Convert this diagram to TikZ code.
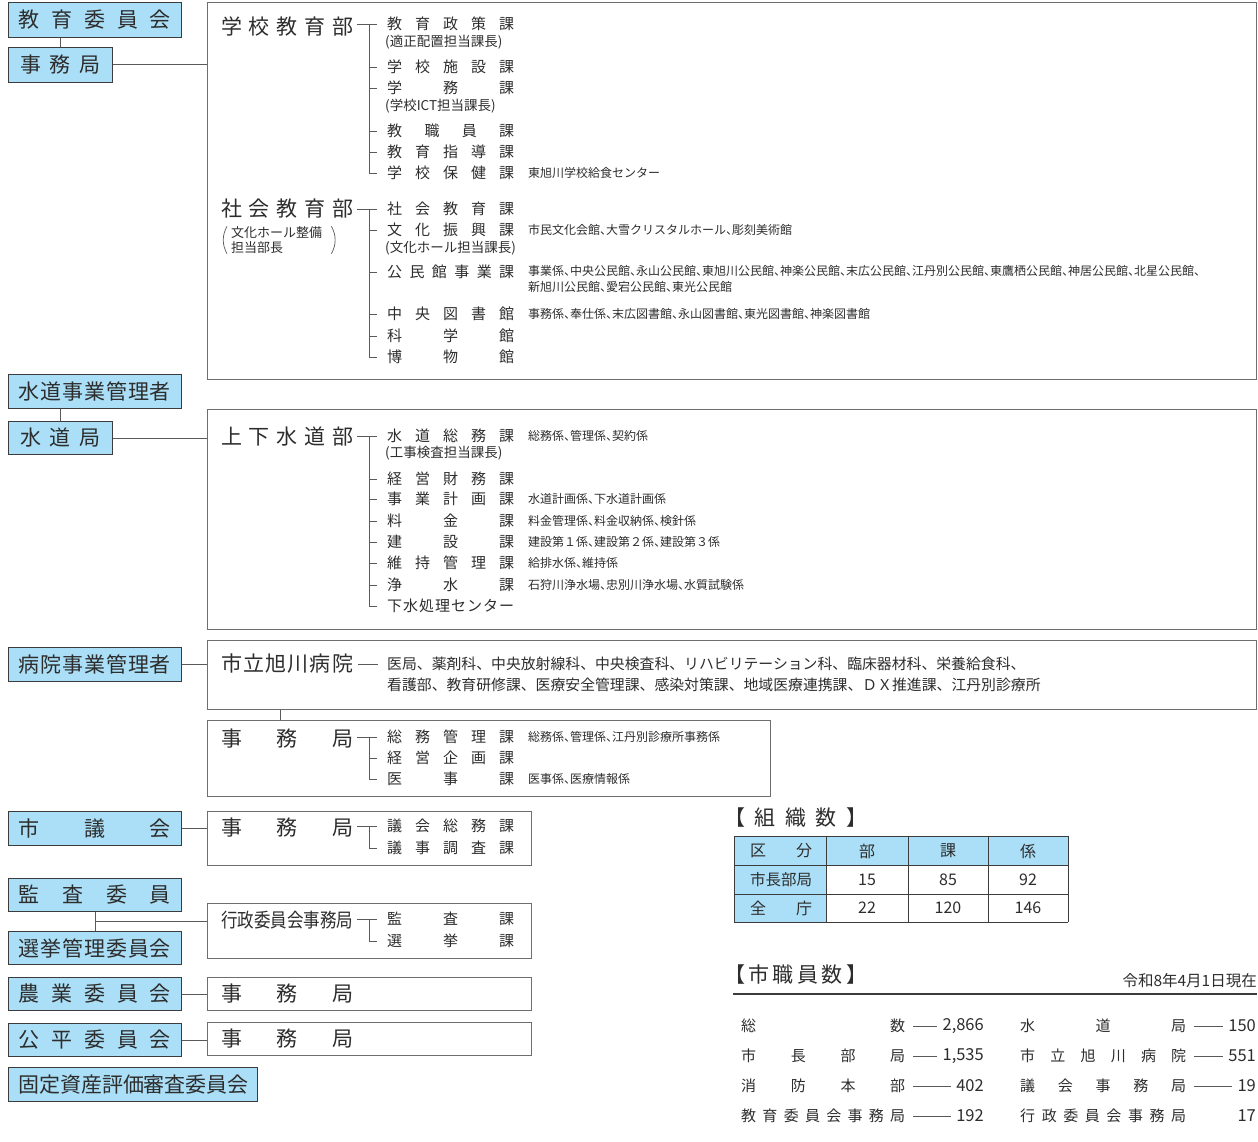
\documentclass[tikz,border=0pt]{standalone}
\usepackage{fontspec}
\usepackage{graphicx}
\setmainfont{Noto Sans CJK JP}
\newfontfamily\notefont[RawFeature=+halt]{Noto Sans CJK JP}
\usetikzlibrary{calc}

\definecolor{boxblue}{RGB}{171,223,247}
\definecolor{ink}{RGB}{45,45,45}
\definecolor{boxline}{RGB}{60,60,60}
\definecolor{framegray}{RGB}{110,110,110}
\definecolor{linegray}{RGB}{90,90,90}

\tikzstyle{bluebox}=[draw=boxline, fill=boxblue, line width=1pt, inner sep=0pt, anchor=north west, font=\fontsize{21}{24}\selectfont]
\tikzstyle{whitebox}=[draw=framegray, line width=1.2pt, inner sep=0pt, anchor=north west]
\tikzstyle{head}=[inner sep=0pt, anchor=west, font=\fontsize{21}{24}\selectfont]
\tikzstyle{ka}=[inner sep=0pt, anchor=west, font=\fontsize{15}{17}\selectfont]
\tikzstyle{sub}=[inner sep=0pt, anchor=west, font=\fontsize{13.5}{15}\selectfont]
\tikzstyle{note}=[inner sep=0pt, anchor=west, font=\notefont\fontsize{12}{16}\selectfont]
\tikzstyle{list}=[inner sep=0pt, anchor=west, font=\fontsize{14.85}{21}\selectfont]
\tikzstyle{cell}=[inner sep=0pt, font=\fontsize{16}{18}\selectfont]
\tikzstyle{staff}=[inner sep=0pt, anchor=west, font=\fontsize{15}{17}\selectfont]
\tikzstyle{count}=[inner sep=0pt, anchor=east, font=\fontsize{16.5}{18}\selectfont]
\tikzstyle{link}=[draw=linegray, line width=1pt]
\tikzstyle{tree}=[draw=linegray, line width=0.9pt]
\tikzstyle{paren}=[draw=linegray, line width=0.7pt]

% spread the characters of #2 over the width #1
\newcommand{\sprd}[2]{\makebox[#1][s]{\expandafter\sprdfirst#2\relax}}
\def\sprdfirst#1{#1\sprdnext}
\def\sprdnext#1{\ifx#1\relax\else\hfil#1\expandafter\sprdnext\fi}

% tree from a head to the first and last section
\newcommand{\trunk}[2]{%
    \draw[tree] ($(#1.west)+(-30,0)$) -- ($(#1.west)+(-10,0)$);
    \draw[tree] ($(#1.west)+(-18,0)$) |- ($(#2.west)+(-10,0)$);
}
\newcommand{\kabranch}[1]{%
    \draw[tree] ($(#1.west)+(-18,0)$) -- ($(#1.west)+(-10,0)$);
}

\begin{document}
\begin{tikzpicture}[x=1pt, y=-1pt, every node/.style={text=ink}]
    \useasboundingbox (0,0) rectangle (1258,1142);

    %left boxes
    \node[bluebox, minimum width=173pt, minimum height=35pt] (kyoiku) at (8,2) {\sprd{152pt}{教育委員会}};
    \node[bluebox, minimum width=104pt, minimum height=35pt] (jimu1) at (8,47) {\sprd{81pt}{事務局}};
    \node[bluebox, minimum width=173pt, minimum height=34pt] (suidokanri) at (8,374) {\sprd{152pt}{水道事業管理者}};
    \node[bluebox, minimum width=104pt, minimum height=33pt] (suidokyoku) at (8,421) {\sprd{81pt}{水道局}};
    \node[bluebox, minimum width=173pt, minimum height=34pt] (byoin) at (8,647) {\sprd{152pt}{病院事業管理者}};
    \node[bluebox, minimum width=173pt, minimum height=34pt] (shigikai) at (8,811) {\sprd{152pt}{市議会}};
    \node[bluebox, minimum width=173pt, minimum height=33pt] (kansa) at (8,878) {\sprd{152pt}{監査委員}};
    \node[bluebox, minimum width=173pt, minimum height=33pt] (senkyo) at (8,931) {\sprd{152pt}{選挙管理委員会}};
    \node[bluebox, minimum width=173pt, minimum height=33pt] (nogyo) at (8,977) {\sprd{152pt}{農業委員会}};
    \node[bluebox, minimum width=173pt, minimum height=33pt] (kohei) at (8,1023) {\sprd{152pt}{公平委員会}};
    \node[bluebox, minimum width=249pt, minimum height=34pt] (kotei) at (8,1067) {\sprd{230pt}{固定資産評価審査委員会}};

    %frames
    \node[whitebox, minimum width=1049pt, minimum height=377pt] (box1) at (207,2) {};
    \node[whitebox, minimum width=1049pt, minimum height=220pt] (box2) at (207,409) {};
    \node[whitebox, minimum width=1049pt, minimum height=69pt] (box3) at (207,640) {};
    \node[whitebox, minimum width=563pt, minimum height=76pt] (box4) at (207,720) {};
    \node[whitebox, minimum width=324pt, minimum height=54pt] (box5) at (207,811) {};
    \node[whitebox, minimum width=324pt, minimum height=55pt] (box6) at (207,903) {};
    \node[whitebox, minimum width=324pt, minimum height=33pt] (box7) at (207,977) {};
    \node[whitebox, minimum width=324pt, minimum height=33pt] (box8) at (207,1022) {};

    %links
    \draw[link] (kyoiku.south -| jimu1.north) -- (jimu1.north);
    \draw[link] (jimu1.east) -- (jimu1.east -| box1.west);
    \draw[link] (suidokanri.south -| suidokyoku.north) -- (suidokyoku.north);
    \draw[link] (suidokyoku.east) -- (suidokyoku.east -| box2.west);
    \draw[link] (byoin.east) -- (byoin.east -| box3.west);
    \coordinate (hj) at ($(box4.north west)+(73,0)$);
    \draw[link] (hj) -- (hj |- box3.south);
    \draw[link] (shigikai.east) -- (shigikai.east -| box5.west);
    \draw[link] (kansa.south) -- (senkyo.north);
    \coordinate (kj) at ($(kansa.south)!0.5!(senkyo.north)$);
    \draw[link] (kj) -- (kj -| box6.west);
    \draw[link] (nogyo.east) -- (nogyo.east -| box7.west);
    \draw[link] (kohei.east) -- (kohei.east -| box8.west);

    %gakko kyoiku bu
    \node[head] (gakko) at (221,27) {\sprd{132pt}{学校教育部}};
    \node[ka] (k11) at (387,24) {\sprd{127pt}{教育政策課}};
    \node[sub] (p11) at (385,42) {(適正配置担当課長)};
    \node[ka] (k12) at (387,67) {\sprd{127pt}{学校施設課}};
    \node[ka] (k13) at (387,88) {\sprd{127pt}{学務課}};
    \node[sub] (p13) at (385,106) {(学校ICT担当課長)};
    \node[ka] (k14) at (387,131) {\sprd{127pt}{教職員課}};
    \node[ka] (k15) at (387,152) {\sprd{127pt}{教育指導課}};
    \node[ka] (k16) at (387,173) {\sprd{127pt}{学校保健課}};
    \node[note] (n16) at (528,173) {東旭川学校給食センター};
    \trunk{k11}{k16}
    \foreach \k in {k12,k13,k14,k15} {\kabranch{\k}}

    %shakai kyoiku bu
    \node[head] (shakai) at (221,209) {\sprd{132pt}{社会教育部}};
    \node[sub, font=\fontsize{13}{15}\selectfont, align=left] (bunka) at (231,240) {文化ホール整備\\担当部長};
    \coordinate (pa) at ($(bunka.north west)+(-4,0)$);
    \coordinate (pb) at ($(bunka.south west)+(-4,0)$);
    \coordinate (pc) at ($(bunka.north east)+(9,0)$);
    \coordinate (pd) at ($(bunka.south east)+(9,0)$);
    \draw[paren] (pa) .. controls ($(pa)+(-5,9)$) and ($(pb)+(-5,-9)$) .. (pb);
    \draw[paren] (pc) .. controls ($(pc)+(5,9)$) and ($(pd)+(5,-9)$) .. (pd);
    \node[ka] (k21) at (387,209) {\sprd{127pt}{社会教育課}};
    \node[ka] (k22) at (387,230) {\sprd{127pt}{文化振興課}};
    \node[note] (n22) at (528,230) {市民文化会館、大雪クリスタルホール、彫刻美術館};
    \node[sub] (p22) at (385,248) {(文化ホール担当課長)};
    \node[ka] (k23) at (387,272) {\sprd{127pt}{公民館事業課}};
    \node[note, align=left] (n23) at (528,279) {事業係、中央公民館、永山公民館、東旭川公民館、神楽公民館、末広公民館、江丹別公民館、東鷹栖公民館、神居公民館、北星公民館、\\新旭川公民館、愛宕公民館、東光公民館};
    \node[ka] (k24) at (387,314) {\sprd{127pt}{中央図書館}};
    \node[note] (n24) at (528,314) {事務係、奉仕係、末広図書館、永山図書館、東光図書館、神楽図書館};
    \node[ka] (k25) at (387,336) {\sprd{127pt}{科学館}};
    \node[ka] (k26) at (387,357) {\sprd{127pt}{博物館}};
    \trunk{k21}{k26}
    \foreach \k in {k22,k23,k24,k25} {\kabranch{\k}}

    %jogesuido bu
    \node[head] (gesui) at (221,437) {\sprd{132pt}{上下水道部}};
    \node[ka] (k31) at (387,436) {\sprd{127pt}{水道総務課}};
    \node[note] (n31) at (528,436) {総務係、管理係、契約係};
    \node[sub] (p31) at (385,453) {(工事検査担当課長)};
    \node[ka] (k32) at (387,479) {\sprd{127pt}{経営財務課}};
    \node[ka] (k33) at (387,499) {\sprd{127pt}{事業計画課}};
    \node[note] (n33) at (528,499) {水道計画係、下水道計画係};
    \node[ka] (k34) at (387,521) {\sprd{127pt}{料金課}};
    \node[note] (n34) at (528,521) {料金管理係、料金収納係、検針係};
    \node[ka] (k35) at (387,542) {\sprd{127pt}{建設課}};
    \node[note] (n35) at (528,542) {建設第１係、建設第２係、建設第３係};
    \node[ka] (k36) at (387,563) {\sprd{127pt}{維持管理課}};
    \node[note] (n36) at (528,563) {給排水係、維持係};
    \node[ka] (k37) at (387,585) {\sprd{127pt}{浄水課}};
    \node[note] (n37) at (528,585) {石狩川浄水場、忠別川浄水場、水質試験係};
    \node[ka] (k38) at (387,606) {\sprd{127pt}{下水処理センター}};
    \trunk{k31}{k38}
    \foreach \k in {k32,k33,k34,k35,k36,k37} {\kabranch{\k}}

    %byoin
    \node[head] (hosp) at (221,664) {\sprd{132pt}{市立旭川病院}};
    \node[list] (list1) at (387,664) {医局、薬剤科、中央放射線科、中央検査科、リハビリテーション科、臨床器材科、栄養給食科、};
    \node[list] (list2) at (387,685) {看護部、教育研修課、医療安全管理課、感染対策課、地域医療連携課、ＤＸ推進課、江丹別診療所};
    \draw[link] ($(hosp.east)+(5,0)$) -- ($(list1.west)+(-9,0)$);

    \node[head] (hjimu) at (221,739) {\sprd{132pt}{事務局}};
    \node[ka] (k41) at (387,737) {\sprd{127pt}{総務管理課}};
    \node[note] (n41) at (528,737) {総務係、管理係、江丹別診療所事務係};
    \node[ka] (k42) at (387,758) {\sprd{127pt}{経営企画課}};
    \node[ka] (k43) at (387,779) {\sprd{127pt}{医事課}};
    \node[note] (n43) at (528,779) {医事係、医療情報係};
    \trunk{k41}{k43}
    \kabranch{k42}

    %gikai
    \node[head] (gjimu) at (221,828) {\sprd{132pt}{事務局}};
    \node[ka] (k51) at (387,826) {\sprd{127pt}{議会総務課}};
    \node[ka] (k52) at (387,848) {\sprd{127pt}{議事調査課}};
    \trunk{k51}{k52}

    %gyosei iinkai
    \node[head, font=\fontsize{19.5}{22}\selectfont] (gyosei) at (221,920) {\resizebox{132pt}{\height}{行政委員会事務局}};
    \node[ka] (k61) at (387,919) {\sprd{127pt}{監査課}};
    \node[ka] (k62) at (387,941) {\sprd{127pt}{選挙課}};
    \trunk{k61}{k62}

    \node[head] (njimu) at (221,994) {\sprd{132pt}{事務局}};
    \node[head] (kjimu) at (221,1039) {\sprd{132pt}{事務局}};

    %soshiki su
    \node[head] (soshiki) at (724,818) {\sprd{143pt}{【組織数】}};
    \fill[boxblue] (734,836) rectangle (1068,865);
    \fill[boxblue] (734,865) rectangle (826,922);
    \foreach \y in {836,865,894,922} {\draw[boxline, line width=1pt] (734,\y) -- (1068,\y);}
    \foreach \x in {734,826,908,988,1068} {\draw[boxline, line width=1pt] (\x,836) -- (\x,922);}
    \node[cell] (kubun) at (781,851) {\sprd{62pt}{区分}};
    \node[cell] (hbu) at (867,851) {部};
    \node[cell] (hka) at (948,851) {課};
    \node[cell] (hkakari) at (1028,851) {係};
    \node[cell, font=\fontsize{15.5}{18}\selectfont] (shicho) at (781,880) {市長部局};
    \node[cell] (zencho) at (781,908) {\sprd{62pt}{全庁}};
    \foreach \x/\a/\b [count=\i] in {867/15/22, 948/85/120, 1028/92/146} {
        \node[cell] (ca\i) at (\x,880) {\a};
        \node[cell] (cb\i) at (\x,908) {\b};
    }

    %shokuin su
    \node[head] (shokuin) at (724,975) {\sprd{143pt}{【市職員数】}};
    \node[inner sep=0pt, anchor=east, font=\fontsize{15.5}{17}\selectfont] (genzai) at (1257,981) {令和8年4月1日現在};
    \draw[boxline, line width=2pt] (733,994) -- (1257,994);
    \foreach \y/\lbl/\val/\rlbl/\rval [count=\i] in {1026/総数/{2,866}/水道局/150, 1056/市長部局/{1,535}/市立旭川病院/551, 1086/消防本部/402/議会事務局/19, 1116/教育委員会事務局/192/行政委員会事務局/17} {
        \node[staff] (sl\i) at (741,\y) {\sprd{164pt}{\lbl}};
        \node[count] (sn\i) at (984,\y) {\val};
        \draw[tree] ($(sl\i.east)+(8,0)$) -- ($(sn\i.west)+(-5,0)$);
        \node[staff] (sr\i) at (1020,\y) {\sprd{166pt}{\rlbl}};
        \node[count] (sm\i) at (1256,\y) {\rval};
        \ifnum\i<4 \draw[tree] ($(sr\i.east)+(8,0)$) -- ($(sm\i.west)+(-5,0)$); \fi
    }

\end{tikzpicture}
\end{document}
